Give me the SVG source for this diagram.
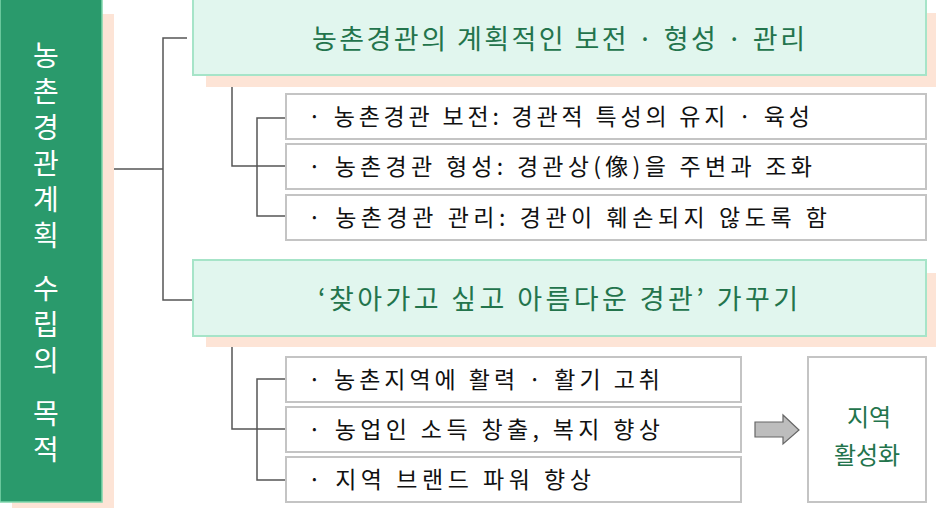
<svg xmlns="http://www.w3.org/2000/svg" width="936" height="508" viewBox="0 0 936 508">
<style>
.shadow{fill:#fde4d6}
.head{fill:#e1f6ee;stroke:#a6e4c8;stroke-width:2}
.sub{fill:#ffffff;stroke:#c4c4c4;stroke-width:2}
.ht{font-family:"Noto Sans CJK KR","Noto Sans",sans-serif;font-size:27px;fill:#23744c}
.st{font-family:"Noto Sans CJK KR","Noto Sans",sans-serif;font-size:23px;fill:#111111}
.vt{font-family:"Noto Sans CJK KR","Noto Sans",sans-serif;font-size:28px;fill:#ffffff;text-anchor:middle}
.gt{font-family:"Noto Sans CJK KR","Noto Sans",sans-serif;font-size:24px;fill:#23744c;text-anchor:middle}
.ln{fill:none;stroke:#555555;stroke-width:1.5}
</style>
<rect width="936" height="508" fill="#ffffff"/>
<g id="connectors">
<polyline class="ln" points="102,169 163,169"/>
<polyline class="ln" points="187,38 163,38 163,300 193,300"/>
<polyline class="ln" points="232,76 232,166 286,166"/>
<polyline class="ln" points="286,118 257,118 257,216 286,216"/>
<polyline class="ln" points="232,337 232,429 286,429"/>
<polyline class="ln" points="286,379 257,379 257,480 286,480"/>
</g>
<g id="purpose">
<rect class="shadow" x="12" y="14" width="102" height="494"/>
<rect x="0" y="-1" width="102" height="503" fill="#2a9a6c" stroke="#7fd6ac" stroke-width="1.5"/>
<text class="vt" x="46" y="66">농</text>
<text class="vt" x="46" y="102">촌</text>
<text class="vt" x="46" y="138">경</text>
<text class="vt" x="46" y="174">관</text>
<text class="vt" x="46" y="210">계</text>
<text class="vt" x="46" y="246">획</text>
<text class="vt" x="46" y="299">수</text>
<text class="vt" x="46" y="335">립</text>
<text class="vt" x="46" y="371">의</text>
<text class="vt" x="46" y="424">목</text>
<text class="vt" x="46" y="460">적</text>
</g>
<g id="heading1">
<rect class="shadow" x="206" y="13" width="730" height="74"/>
<rect class="head" x="193" y="-1" width="733" height="76"/>
<text class="ht" x="312" y="49" textLength="493" lengthAdjust="spacing">농촌경관의 계획적인 보전 · 형성 · 관리</text>
</g>
<g id="item1">
<rect class="sub" x="286" y="94" width="640" height="45"/>
<text class="st" x="308" y="125" textLength="502" lengthAdjust="spacing">· 농촌경관 보전: 경관적 특성의 유지 · 육성</text>
</g>
<g id="item2">
<rect class="sub" x="286" y="144" width="640" height="45"/>
<text class="st" x="308" y="175" textLength="504" lengthAdjust="spacing">· 농촌경관 형성: 경관상(像)을 주변과 조화</text>
</g>
<g id="item3">
<rect class="sub" x="286" y="195" width="640" height="45"/>
<text class="st" x="308" y="226" textLength="519" lengthAdjust="spacing">· 농촌경관 관리: 경관이 훼손되지 않도록 함</text>
</g>
<g id="heading2">
<rect class="shadow" x="206" y="273" width="730" height="74"/>
<rect class="head" x="193" y="260" width="733" height="76"/>
<text class="ht" x="318" y="309" textLength="480" lengthAdjust="spacing">‘찾아가고 싶고 아름다운 경관’ 가꾸기</text>
</g>
<g id="item4">
<rect class="sub" x="286" y="357" width="455" height="45"/>
<text class="st" x="308" y="388" textLength="352" lengthAdjust="spacing">· 농촌지역에 활력 · 활기 고취</text>
</g>
<g id="item5">
<rect class="sub" x="286" y="407" width="455" height="45"/>
<text class="st" x="308" y="438" textLength="352" lengthAdjust="spacing">· 농업인 소득 창출, 복지 향상</text>
</g>
<g id="item6">
<rect class="sub" x="286" y="457" width="455" height="45"/>
<text class="st" x="308" y="488" textLength="283" lengthAdjust="spacing">· 지역 브랜드 파워 향상</text>
</g>
<g id="arrow">
<polygon points="755,422 783,422 783,415 799,430 783,444 783,437 755,437" fill="#bdbdbd" stroke="#666666" stroke-width="1.2"/>
</g>
<g id="result">
<rect class="sub" x="808" y="357" width="118" height="145"/>
<text class="gt" x="869" y="426">지역</text>
<text class="gt" x="867" y="464">활성화</text>
</g>
</svg>
